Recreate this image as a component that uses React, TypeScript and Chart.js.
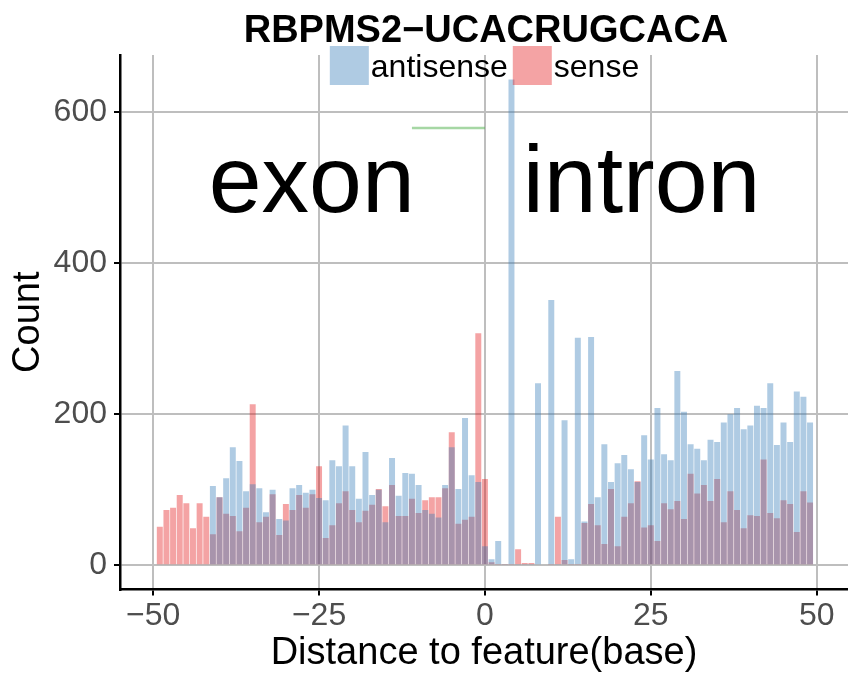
import React, { useEffect, useRef } from 'react';
import { Chart, registerables } from 'chart.js';

Chart.register(...registerables);

// Distance to feature (base)
const positions = [
  -49, -48, -47, -46, -45, -44, -43, -42, -41, -40,
  -39, -38, -37, -36, -35, -34, -33, -32, -31, -30,
  -29, -28, -27, -26, -25, -24, -23, -22, -21, -20,
  -19, -18, -17, -16, -15, -14, -13, -12, -11, -10,
  -9, -8, -7, -6, -5, -4, -3, -2, -1, 0,
  1, 2, 3, 4, 5, 6, 7, 8, 9, 10,
  11, 12, 13, 14, 15, 16, 17, 18, 19, 20,
  21, 22, 23, 24, 25, 26, 27, 28, 29, 30,
  31, 32, 33, 34, 35, 36, 37, 38, 39, 40,
  41, 42, 43, 44, 45, 46, 47, 48, 49,
];

const antisense = [
  0, 0, 0, 0, 0, 0, 0, 0, 105, 90,
  115, 156, 138, 98, 107, 102, 70, 100, 61, 59,
  102, 106, 96, 100, 89, 86, 139, 131, 185, 131,
  88, 150, 93, 100, 57, 142, 92, 122, 121, 106,
  73, 68, 63, 106, 156, 101, 195, 119, 110, 25,
  8, 32, 1, 643, 1, 1, 1, 241, 0, 351,
  1, 192, 8, 301, 58, 302, 90, 160, 110, 135,
  146, 127, 110, 172, 140, 208, 147, 139, 257, 203,
  160, 154, 139, 166, 163, 189, 200, 208, 180, 185,
  211, 208, 241, 159, 189, 163, 230, 223, 189,
];

const sense = [
  51, 73, 76, 93, 82, 49, 82, 64, 41, 90,
  68, 65, 45, 76, 213, 57, 64, 94, 40, 81,
  73, 93, 76, 94, 131, 36, 53, 82, 98, 73,
  57, 72, 80, 101, 78, 106, 65, 65, 88, 69,
  86, 90, 90, 102, 176, 55, 60, 64, 307, 114,
  4, 1, 1, 1, 21, 3, 3, 0, 0, 1,
  64, 7, 1, 1, 56, 81, 53, 28, 101, 25,
  64, 82, 111, 50, 53, 32, 82, 74, 85, 61,
  121, 95, 106, 85, 114, 57, 98, 73, 49, 66,
  65, 140, 69, 62, 86, 81, 44, 98, 83,
];

// green feature segment
const segmentX = [-11, 0];
const segmentY = [579, 579];

const xTickValues = [-50, -25, 0, 25, 50];
const xTickLabels = ['\u221250', '\u221225', '0', '25', '50'];
const yTickValues = [0, 200, 400, 600];
const yTickLabels = ['0', '200', '400', '600'];

const seriesNames = ['antisense', 'sense'];
const chartTitle = 'RBPMS2\u2212UCACRUGCACA';
const xTitle = 'Distance to feature(base)';
const yTitle = 'Count';

const regionLabels = ['exon', 'intron'];
const regionLabelX = [-26.1, 23.6];
const regionLabelY = 468;

const FONT = '"Liberation Sans", Arial, Helvetica, sans-serif';
const BLUE = 'rgba(55,126,184,0.4)';
const RED = 'rgba(228,26,28,0.4)';
const GREEN = 'rgba(77,175,74,0.5)';

const overlayPlugin = {
  id: 'overlayTexts',
  afterDatasetsDraw(chart: any) {
    const ctx = chart.ctx;
    const xs = chart.scales.x;
    const ys = chart.scales.y;
    ctx.save();
    ctx.fillStyle = '#000';
    ctx.font = `95px ${FONT}`;
    ctx.textAlign = 'center';
    ctx.textBaseline = 'alphabetic';
    regionLabels.forEach((t, i) => {
      ctx.fillText(t, xs.getPixelForValue(regionLabelX[i]), ys.getPixelForValue(regionLabelY));
    });
    ctx.restore();
  },
  afterDraw(chart: any) {
    const ctx = chart.ctx;
    const area = chart.chartArea;
    ctx.save();
    // title
    ctx.fillStyle = '#000';
    ctx.font = `bold 38px ${FONT}`;
    ctx.textAlign = 'center';
    ctx.textBaseline = 'alphabetic';
    ctx.fillText(chartTitle, (area.left + area.right) / 2 + 2, 42);
    // legend
    ctx.font = `32px ${FONT}`;
    const sq = 39;
    const gap1 = 2;
    const gap2 = 5;
    const colors = [BLUE, RED];
    const widths = seriesNames.map((n) => ctx.measureText(n).width);
    const total = sq * 2 + gap1 * 2 + gap2 + widths[0] + widths[1];
    let x = 484.5 - total / 2;
    ctx.textAlign = 'left';
    seriesNames.forEach((n, i) => {
      ctx.fillStyle = colors[i];
      ctx.fillRect(x, 46, sq, sq);
      x += sq + gap1;
      ctx.fillStyle = '#000';
      ctx.fillText(n, x, 77);
      x += widths[i] + gap2;
    });
    ctx.restore();
  },
};

export default function App() {
  const ref = useRef<HTMLCanvasElement | null>(null);

  useEffect(() => {
    if (!ref.current) return;
    Chart.defaults.font.family = FONT;
    const chart = new Chart(ref.current, {
      type: 'bar',
      data: {
        datasets: [
          {
            type: 'line',
            label: 'feature',
            data: segmentX.map((x, i) => ({ x, y: segmentY[i] })),
            borderColor: GREEN,
            borderWidth: 2.5,
            pointRadius: 0,
            fill: false,
            order: 0,
          } as any,
          {
            label: seriesNames[0],
            data: positions.map((x, i) => ({ x, y: antisense[i] })),
            backgroundColor: BLUE,
            borderWidth: 0,
            barPercentage: 0.9,
            categoryPercentage: 1,
            grouped: false,
            order: 1,
          },
          {
            label: seriesNames[1],
            data: positions.map((x, i) => ({ x, y: sense[i] })),
            backgroundColor: RED,
            borderWidth: 0,
            barPercentage: 0.9,
            categoryPercentage: 1,
            grouped: false,
            order: 2,
          },
        ],
      },
      options: {
        responsive: false,
        animation: false,
        devicePixelRatio: 1,
        layout: { padding: { top: 55, left: 0, right: 0, bottom: 0 } },
        plugins: {
          legend: { display: false },
          title: { display: false },
          tooltip: { enabled: false },
        },
        scales: {
          x: {
            type: 'linear',
            min: -55.0,
            max: 54.72,
            offset: false,
            afterFit: (s: any) => {
              s.height = 87.5;
            },
            afterBuildTicks: (s: any) => {
              s.ticks = xTickValues.map((v) => ({ value: v }));
            },
            ticks: {
              autoSkip: false,
              maxRotation: 0,
              padding: 1,
              color: '#4d4d4d',
              font: { size: 32 },
              callback: (v: any) => {
                const i = xTickValues.indexOf(Number(v));
                return i >= 0 ? xTickLabels[i] : '';
              },
            },
            grid: {
              offset: false,
              color: '#bebebe',
              lineWidth: 2,
              drawTicks: true,
              tickLength: 6,
              tickColor: '#000',
              tickWidth: 2,
            },
            border: { display: true, color: '#000', width: 2.5 },
            title: {
              display: true,
              text: xTitle,
              color: '#000',
              font: { size: 38 },
              padding: { top: 0, bottom: 1 },
            },
          },
          y: {
            type: 'linear',
            min: -32.2,
            max: 675.5,
            afterFit: (s: any) => {
              s.width = 120;
            },
            afterBuildTicks: (s: any) => {
              s.ticks = yTickValues.map((v) => ({ value: v }));
            },
            ticks: {
              padding: 7,
              color: '#4d4d4d',
              font: { size: 32 },
              callback: (v: any) => {
                const i = yTickValues.indexOf(Number(v));
                return i >= 0 ? yTickLabels[i] : '';
              },
            },
            grid: {
              color: '#bebebe',
              lineWidth: 2,
              drawTicks: true,
              tickLength: 6,
              tickColor: '#000',
              tickWidth: 2,
            },
            border: { display: true, color: '#000', width: 2.5 },
            title: {
              display: true,
              text: yTitle,
              color: '#000',
              font: { size: 38 },
              padding: { top: 6, bottom: 0 },
            },
          },
        },
      },
      plugins: [overlayPlugin],
    });
    return () => chart.destroy();
  }, []);

  return (
    <div style={{ position: 'fixed', left: 0, top: 0, width: 848, height: 677, background: '#fff' }}>
      <canvas ref={ref} width={848} height={677} style={{ display: 'block' }} />
    </div>
  );
}
